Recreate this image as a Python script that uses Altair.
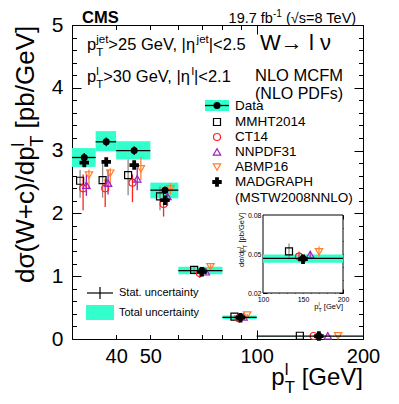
import altair as alt
import pandas as pd

# ---------------- values ----------------
bin_lo = [30, 35, 40, 50, 60, 80, 100]
bin_hi = [35, 40, 50, 60, 80, 100, 200]

data_y      = [2.89, 3.14, 3.00, 2.37, 1.09, 0.345, 0.0466]
data_stat   = [0.07, 0.07, 0.07, 0.06, 0.03, 0.012, 0.0012]
data_tot_lo = [2.74, 2.99, 2.86, 2.24, 1.03, 0.315, 0.0433]
data_tot_hi = [3.04, 3.31, 3.15, 2.49, 1.15, 0.375, 0.0496]

model_names = ["MMHT2014", "CT14", "NNPDF31", "ABMP16", "MADGRAPH"]
mmht_y  = [2.52, 2.53, 2.61, 2.27, 1.10, 0.355, 0.0520]
mmht_lo = [2.25, 2.25, 2.29, 2.05, 1.03, 0.330, 0.0460]
mmht_hi = [2.69, 2.80, 2.86, 2.43, 1.16, 0.380, 0.0580]
ct14_y  = [2.40, 2.40, 2.49, 2.15, 1.05, 0.330, 0.0480]
ct14_lo = [2.05, 2.10, 2.18, 1.95, 0.97, 0.300, 0.0440]
ct14_hi = [2.62, 2.55, 2.62, 2.28, 1.10, 0.355, 0.0520]
nnpdf_y  = [2.45, 2.48, 2.55, 2.27, 1.07, 0.350, 0.0496]
nnpdf_lo = [2.28, 2.30, 2.37, 2.12, 1.02, 0.330, 0.0470]
nnpdf_hi = [2.62, 2.70, 2.74, 2.40, 1.12, 0.370, 0.0520]
abmp_y  = [2.61, 2.64, 2.71, 2.39, 1.15, 0.380, 0.0517]
abmp_lo = [2.38, 2.43, 2.53, 2.30, 1.10, 0.360, 0.0480]
abmp_hi = [2.70, 2.72, 2.90, 2.48, 1.19, 0.400, 0.0560]
mg_y  = [2.81, 2.82, 2.77, 2.21, 1.07, 0.340, 0.0460]
mg_lo = [2.75, 2.76, 2.71, 2.16, 1.05, 0.330, 0.0455]
mg_hi = [2.87, 2.88, 2.83, 2.26, 1.09, 0.350, 0.0465]

x_tick_labels = [40, 50, 100, 200]
x_ticks = [30, 40, 50, 60, 70, 80, 90, 100, 200]
y_tick_labels = [0, 1, 2, 3, 4, 5]
y_ticks = [round(i * 0.2, 1) for i in range(26)]
inset_x_labels = [100, 150, 200]
inset_x_ticks = list(range(100, 201, 10))
inset_y_labels = [0.02, 0.05, 0.08]
inset_y_ticks = [round(0.02 + i * 0.01, 2) for i in range(7)]

# ---------------- styles ----------------
FONT = "Liberation Sans"
TURQ = "#33FFCC"
W, H = 291, 314
OX, OY = 72, 25          # page position of the plot origin
STYLE = {
    "MMHT2014": dict(shape="square", color="black", err="#8a8a8a", off=-0.175, size=49, filled=False),
    "CT14": dict(shape="circle", color="#FF2020", err="#FF2020", off=-0.05, size=49, filled=False),
    "NNPDF31": dict(shape="triangle-up", color="#A020C0", err="#A020C0", off=0.09, size=55, filled=False),
    "ABMP16": dict(shape="triangle-down", color="#FF7F2A", err="#FF7F2A", off=0.20, size=55, filled=False),
    "MADGRAPH": dict(shape="cross", color="black", err="black", off=0.0, size=90, filled=True),
}
model_vals = {
    "MMHT2014": (mmht_y, mmht_lo, mmht_hi),
    "CT14": (ct14_y, ct14_lo, ct14_hi),
    "NNPDF31": (nnpdf_y, nnpdf_lo, nnpdf_hi),
    "ABMP16": (abmp_y, abmp_lo, abmp_hi),
    "MADGRAPH": (mg_y, mg_lo, mg_hi),
}

# ---------------- tables ----------------
df_data = pd.DataFrame({
    "lo": bin_lo, "hi": bin_hi,
    "xc": [(a + b) / 2 for a, b in zip(bin_lo, bin_hi)],
    "y": data_y,
    "slo": [v - e for v, e in zip(data_y, data_stat)],
    "shi": [v + e for v, e in zip(data_y, data_stat)],
    "tlo": data_tot_lo, "thi": data_tot_hi,
})
model_frames = {}
for m in model_names:
    yv, lo, hi = model_vals[m]
    off = STYLE[m]["off"]
    model_frames[m] = pd.DataFrame({
        "x": [(a + b) / 2 + off * (b - a) for a, b in zip(bin_lo, bin_hi)],
        "y": yv, "lo": lo, "hi": hi,
    })

DUMMY = pd.DataFrame({"d": [0]})

# ---------------- text helpers ----------------
AW = {' ': 278, '!': 278, '(': 333, ')': 333, '+': 584, ',': 278, '-': 333, '.': 278, '/': 278,
      '<': 584, '=': 584, '>': 584, '[': 278, ']': 278, '|': 260,
      'σ': 600, 'η': 556, 'ν': 500, '→': 1000, '√': 549}
for ch in "0123456789":
    AW[ch] = 556
AW.update(dict(A=667, B=667, C=722, D=722, E=667, F=611, G=778, H=722, I=278, L=556, M=833, N=722,
               O=778, P=667, R=722, S=667, T=611, U=722, V=667, W=944))
AW.update(dict(a=556, b=556, c=500, d=556, e=556, f=278, g=556, h=556, i=222, j=222, k=500, l=222,
               m=833, n=556, o=556, p=556, r=333, s=500, t=278, u=556, v=500, w=722, x=500, y=500, z=500))


def tw(s, size):
    return sum(AW.get(c, 556) for c in s) * size / 1000.0


def T(text, xv, yv, size, weight="normal", align="left", baseline="alphabetic", angle=0, color="black"):
    props = dict(text=text, font=FONT, fontSize=size, fontWeight=weight, align=align,
                 baseline=baseline, color=color)
    if angle:
        props["angle"] = angle
    return alt.Chart(DUMMY).mark_text(**props).encode(x=alt.value(xv), y=alt.value(yv))


def rich_len(parts, size):
    c = 0
    for p in parts:
        items = [(p, 0, 1.0)] if isinstance(p, str) else p
        c += max(tw(t, size * sc) for t, sh, sc in items)
    return c


def rich(parts, xp, yp, size, angle=0):
    # leading spaces are trimmed by the renderer, so they advance the cursor instead
    d, u = ((1, 0), (0, -1)) if angle == 0 else ((0, -1), (-1, 0))
    out, c = [], 0
    for p in parts:
        items = [(p, 0, 1.0)] if isinstance(p, str) else p
        wmax = 0
        for t, sh, sc in items:
            s = size * sc
            lead = len(t) - len(t.lstrip(" "))
            pre = tw(" " * lead, s)
            xx = xp + (c + pre) * d[0] + sh * size * u[0]
            yy = yp + (c + pre) * d[1] + sh * size * u[1]
            out.append(T(t.lstrip(" "), xx - OX, yy - OY, s, angle=angle))
            wmax = max(wmax, tw(t, s))
        c += wmax
    return out


SUP = lambda t: (t, 0.40, 0.7)
SUB = lambda t: (t, -0.35, 0.7)


def marker(xp, yp, shape, color, size, filled, sw=1.2):
    return alt.Chart(DUMMY).mark_point(shape=shape, color=color, size=size, filled=filled,
                                       strokeWidth=sw, opacity=1).encode(
        x=alt.value(xp - OX), y=alt.value(yp - OY))


def hrule(x1, x2, yp, color="black", sw=1.3):
    return alt.Chart(DUMMY).mark_rule(color=color, strokeWidth=sw).encode(
        x=alt.value(x1 - OX), x2=alt.value(x2 - OX), y=alt.value(yp - OY))


def vrule(xp, y1, y2, color="black", sw=1.3):
    return alt.Chart(DUMMY).mark_rule(color=color, strokeWidth=sw).encode(
        x=alt.value(xp - OX), y=alt.value(y1 - OY), y2=alt.value(y2 - OY))


def box(x1, x2, y1, y2, color):
    return alt.Chart(DUMMY).mark_rect(color=color, opacity=1).encode(
        x=alt.value(x1 - OX), x2=alt.value(x2 - OX), y=alt.value(y1 - OY), y2=alt.value(y2 - OY))


# ---------------- main panel ----------------
xs = alt.Scale(type="log", domain=[30, 200], nice=False)
ys = alt.Scale(domain=[0, 5], nice=False, zero=False)
lab = dict(labelFont=FONT, labelColor="black", grid=False, domain=False, ticks=False,
           labelFlush=False, labelOverlap=False, title=None)
xax = alt.Axis(orient="bottom", values=x_tick_labels, labelFontSize=20, labelPadding=7, **lab)
yax = alt.Axis(orient="left", values=y_tick_labels, labelFontSize=21, labelPadding=9, **lab)


def X(f):
    return alt.X(f + ":Q", scale=xs, axis=xax, title=None)


def Y(f):
    return alt.Y(f + ":Q", scale=ys, axis=yax, title=None)


main_layers = [
    alt.Chart(df_data).mark_rect(color=TURQ, opacity=1).encode(x=X("lo"), x2="hi:Q", y=Y("tlo"), y2="thi:Q"),
]
for m in model_names:
    st = STYLE[m]
    main_layers.append(alt.Chart(model_frames[m]).mark_rule(color=st["err"], strokeWidth=1.3).encode(
        x=X("x"), y=Y("lo"), y2="hi:Q"))
for m in model_names:
    st = STYLE[m]
    main_layers.append(alt.Chart(model_frames[m]).mark_point(
        shape=st["shape"], color=st["color"], size=st["size"], filled=st["filled"],
        strokeWidth=1.2, opacity=1).encode(x=X("x"), y=Y("y")))
main_layers += [
    alt.Chart(df_data).mark_rule(color="black", strokeWidth=1.3).encode(x=X("lo"), x2="hi:Q", y=Y("y")),
    alt.Chart(df_data).mark_rule(color="black", strokeWidth=1.3).encode(x=X("xc"), y=Y("slo"), y2="shi:Q"),
    alt.Chart(df_data).mark_point(shape="circle", filled=True, color="black", size=49, opacity=1).encode(
        x=X("xc"), y=Y("y")),
]
main = alt.layer(*main_layers)


def tick_layer(channel, scale, orient, offset, values, test, major, minor):
    ax = alt.Axis(orient=orient, offset=offset, values=values, labels=False, domain=False, grid=False,
                  title=None, tickColor="black", tickWidth=1,
                  tickSize={"condition": {"test": test, "value": major}, "value": minor})
    base = alt.Chart(pd.DataFrame({"v": [values[0], values[-1]]})).mark_point(opacity=0)
    if channel == "x":
        return base.encode(x=alt.X("v:Q", scale=scale, axis=ax), y=alt.value(0))
    return base.encode(y=alt.Y("v:Q", scale=scale, axis=ax), x=alt.value(0))


YMAJ = "abs(datum.value - round(datum.value)) < 0.000001"
ticks_main = [
    tick_layer("x", xs, "top", -H, x_ticks, "datum.value >= 100", 9, 4.5),
    tick_layer("x", xs, "bottom", -H, x_ticks, "datum.value >= 100", 9, 4.5),
    tick_layer("y", ys, "right", -W, y_ticks, YMAJ, 9, 4.5),
    tick_layer("y", ys, "left", -W, y_ticks, YMAJ, 9, 4.5),
]

# ---------------- inset ----------------
IX0, IX1 = 263 - OX, 343 - OX
IYT, IYB = 215 - OY, 293 - OY
ixs = alt.Scale(domain=[100, 200], range=[IX0, IX1], nice=False, zero=False)
iys = alt.Scale(domain=[0.02, 0.08], range=[IYB, IYT], nice=False, zero=False)
ilab = dict(labelFont=FONT, labelColor="black", grid=False, domain=False, ticks=False,
            labelFlush=False, labelOverlap=False, title=None, labelFontSize=7, labelPadding=2)
ixax = alt.Axis(orient="bottom", offset=-(H - IYB), values=inset_x_labels, **ilab)
iyax = alt.Axis(orient="left", offset=-IX0, values=inset_y_labels, format=".2f", **ilab)


def IXe(f):
    return alt.X(f + ":Q", scale=ixs, axis=ixax, title=None)


def IYe(f):
    return alt.Y(f + ":Q", scale=iys, axis=iyax, title=None)


last = len(bin_lo) - 1
df_iframe = pd.DataFrame({"x0": [100], "x1": [200], "y0": [0.02], "y1": [0.08]})
df_idata = pd.DataFrame({
    "lo": [100], "hi": [200], "xc": [150], "y": [data_y[last]],
    "slo": [data_y[last] - data_stat[last]], "shi": [data_y[last] + data_stat[last]],
    "tlo": [data_tot_lo[last]], "thi": [data_tot_hi[last]],
})
inset_layers = [
    alt.Chart(df_iframe).mark_rect(fill="white", stroke="black", strokeWidth=1).encode(
        x=IXe("x0"), x2="x1:Q", y=IYe("y0"), y2="y1:Q"),
    alt.Chart(df_idata).mark_rect(color=TURQ, opacity=1).encode(x=IXe("lo"), x2="hi:Q", y=IYe("tlo"), y2="thi:Q"),
]
for m in model_names:
    st = STYLE[m]
    yv, lo, hi = model_vals[m]
    dfm = pd.DataFrame({"x": [150 + st["off"] * 100], "y": [yv[last]], "lo": [lo[last]], "hi": [hi[last]]})
    inset_layers.append(alt.Chart(dfm).mark_rule(color=st["err"], strokeWidth=1.2).encode(
        x=IXe("x"), y=IYe("lo"), y2="hi:Q"))
    inset_layers.append(alt.Chart(dfm).mark_point(
        shape=st["shape"], color=st["color"], size=st["size"], filled=st["filled"],
        strokeWidth=1.2, opacity=1).encode(x=IXe("x"), y=IYe("y")))
inset_layers += [
    alt.Chart(df_idata).mark_rule(color="black", strokeWidth=1.2).encode(x=IXe("lo"), x2="hi:Q", y=IYe("y")),
    alt.Chart(df_idata).mark_point(shape="circle", filled=True, color="black", size=49, opacity=1).encode(
        x=IXe("xc"), y=IYe("y")),
]
inset = alt.layer(*inset_layers)

IXMAJ = "datum.value % 50 === 0"
IYMAJ = "indexof([2, 5, 8], round(datum.value * 100)) >= 0"
ticks_inset = [
    tick_layer("x", ixs, "top", -IYB, inset_x_ticks, IXMAJ, 4, 2),
    tick_layer("x", ixs, "bottom", -(H - IYT), inset_x_ticks, IXMAJ, 4, 2),
    tick_layer("y", iys, "right", -(W - IX0), inset_y_ticks, IYMAJ, 4, 2),
    tick_layer("y", iys, "left", -IX1, inset_y_ticks, IYMAJ, 4, 2),
]

# ---------------- annotations ----------------
ann = []
ann.append(T("CMS", 82 - OX, 22.5 - OY, 16.5, weight="bold"))
lumi = ["19.7 fb", [SUP("-1")], " (√s=8 TeV)"]
ann += rich(lumi, 358 - rich_len(lumi, 14.5), 22.5, 14.5)
ann += rich(["p", [SUP("jet"), SUB("T")], ">25 GeV, |η", [SUP("jet")], "|<2.5"], 87, 50, 16.5)
ann += rich(["p", [SUP("l"), SUB("T")], ">30 GeV, |η", [SUP("l")], "|<2.1"], 87, 82, 16.5)
ann.append(T("W→ l ν", 260 - OX, 50 - OY, 22))
ann.append(T("NLO MCFM", 299 - OX, 81 - OY, 16.5, align="center"))
ann.append(T("(NLO PDFs)", 299 - OX, 98.5 - OY, 16, align="center"))

# legend (upper right)
LX, TX = 217, 235
ann += [box(205, 229, 100, 111, TURQ), hrule(205, 229, 105.5), marker(LX, 105.5, "circle", "black", 49, True)]
ann.append(T("Data", TX - OX, 106 - OY, 13.5, baseline="middle"))
leg_rows = [122, 137, 152, 167, 182]
for m, yy in zip(model_names, leg_rows):
    st = STYLE[m]
    ann.append(marker(LX, yy, st["shape"], st["color"], st["size"], st["filled"]))
    ann.append(T(m, TX - OX, yy - OY, 13.5, baseline="middle"))
ann.append(T("(MSTW2008NNLO)", TX - OX, 198 - OY, 13.5, baseline="middle"))

# legend (lower left)
ann += [hrule(87, 113, 293, sw=1.2), vrule(100, 287, 299, sw=1.2)]
ann.append(T("Stat. uncertainty", 119 - OX, 293 - OY, 11, baseline="middle"))
ann.append(box(86, 114, 305, 320, TURQ))
ann.append(T("Total uncertainty", 119 - OX, 313 - OY, 11, baseline="middle"))

# axis titles
ytitle = ["dσ(W+c)/dp", [SUP("l"), SUB("T")], " [pb/GeV]"]
ann += rich(ytitle, 34, 283, 26, angle=270)
xtitle = ["p", [SUP("l"), SUB("T")], " [GeV]"]
ann += rich(xtitle, 363 - rich_len(xtitle, 24), 385, 24)
iytitle = ["dσ/dp", [SUP("l"), SUB("T")], " [pb/GeV]"]
ann += rich(iytitle, 244, 213 + rich_len(iytitle, 7.5), 7.5, angle=270)
ixtitle = ["p", [SUP("l"), SUB("T")], " [GeV]"]
ann += rich(ixtitle, 343 - rich_len(ixtitle, 7.5), 309, 7.5)

chart = alt.layer(main, *ticks_main, inset, *ticks_inset, *ann).resolve_scale(
    x="independent", y="independent"
).properties(
    width=W, height=H, background="white",
    padding={"left": OX - 8, "top": OY - 8, "right": 20, "bottom": 60},
    autosize=alt.AutoSizeParams(type="none"),
).configure_view(stroke="black", strokeWidth=1)

chart.save("out.html", embed_options={"renderer": "svg", "actions": False})
